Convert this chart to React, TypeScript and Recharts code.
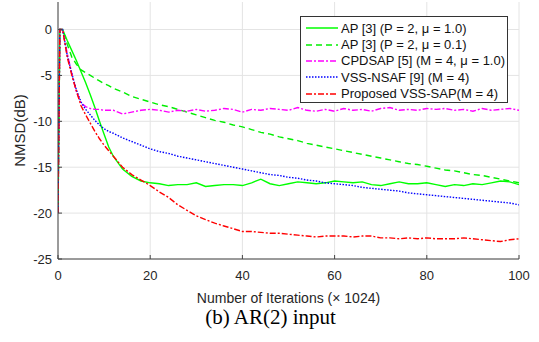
import React from 'react';
import { LineChart, Line, XAxis, YAxis, CartesianGrid, Label } from 'recharts';

const iterations = [
  0, 0.4, 1, 2, 3, 4, 5, 6, 7, 8, 9, 10, 11, 12,
  14, 16, 18, 20, 22, 24, 26, 28, 30, 32, 34, 36, 38, 40, 42, 44, 46, 48, 50, 52,
  54, 56, 58, 60, 62, 64, 66, 68, 70, 72, 74, 76, 78, 80, 82, 84, 86, 88, 90, 92,
  94, 96, 98, 100,
];

const apMu1 = [
  -20, 0, 0, -1.2, -2.3, -3.4, -4.6, -5.8, -7.1, -8.5, -10.0, -11.4, -12.8, -13.8,
  -15.2, -16.0, -16.5, -16.7, -16.8, -17.0, -16.9, -16.9, -16.7, -17.1,
  -17.0, -16.9, -16.9, -17.0, -16.7, -16.3, -16.8, -17.0, -16.8, -16.6,
  -16.7, -16.8, -16.7, -16.5, -16.6, -16.7, -16.6, -16.9, -17.0, -16.8,
  -16.6, -16.8, -16.8, -16.7, -16.9, -17.1, -16.9, -17.0, -16.8, -16.9,
  -16.7, -16.5, -16.6, -16.9,
];

const apMu01 = [
  -20, 0, 0, -1.6, -3.0, -3.8, -4.4, -4.7, -5.0, -5.3, -5.6, -5.9, -6.1, -6.4,
  -6.8, -7.3, -7.6, -7.9, -8.2, -8.4, -8.7, -9.0, -9.3, -9.6,
  -9.9, -10.1, -10.4, -10.6, -10.9, -11.2, -11.4, -11.7, -11.9, -12.1,
  -12.4, -12.6, -12.8, -13.0, -13.2, -13.4, -13.6, -13.8, -14.0, -14.2,
  -14.4, -14.6, -14.7, -14.9, -15.1, -15.3, -15.4, -15.6, -15.8, -15.9,
  -16.1, -16.3, -16.5, -16.7,
];

const cpdsap = [
  -20, 0, 0, -2.6, -4.8, -6.8, -8.0, -8.4, -8.6, -8.7, -8.7, -8.8, -8.8, -8.8,
  -9.2, -9.0, -8.8, -8.7, -8.8, -9.0, -8.8, -8.9, -8.7, -8.9,
  -8.8, -8.6, -8.7, -9.0, -8.7, -8.8, -8.6, -8.7, -8.8, -8.5,
  -8.8, -8.9, -8.7, -8.9, -8.6, -8.8, -8.7, -8.9, -8.6, -8.5,
  -8.8, -8.7, -8.8, -8.6, -8.7, -8.6, -8.8, -8.7, -8.9, -8.6,
  -8.8, -8.7, -8.6, -8.8,
];

const vssNsaf = [
  -20, 0, 0, -2.8, -4.8, -6.6, -7.9, -8.7, -9.3, -9.9, -10.4, -10.8, -11.1, -11.3,
  -11.8, -12.2, -12.6, -13.0, -13.3, -13.5, -13.8, -14.0, -14.2, -14.4,
  -14.6, -14.8, -15.0, -15.2, -15.4, -15.6, -15.8, -15.9, -16.1, -16.2,
  -16.4, -16.5, -16.7, -16.8, -16.9, -17.0, -17.2, -17.3, -17.4, -17.5,
  -17.6, -17.8, -17.9, -18.0, -18.1, -18.2, -18.3, -18.4, -18.5, -18.6,
  -18.7, -18.8, -18.9, -19.1,
];

const proposed = [
  -20, 0, 0, -3.0, -5.0, -6.7, -8.3, -9.3, -10.2, -11.1, -11.9, -12.6, -13.2, -13.8,
  -15.0, -15.8, -16.4, -17.0, -17.7, -18.3, -19.1, -19.7, -20.3, -20.7,
  -21.1, -21.4, -21.7, -22.0, -22.0, -22.1, -22.2, -22.2, -22.3, -22.4,
  -22.5, -22.6, -22.5, -22.5, -22.5, -22.6, -22.5, -22.5, -22.7, -22.7,
  -22.8, -22.7, -22.8, -22.7, -22.8, -22.8, -22.8, -22.7, -22.8, -22.9,
  -23.0, -23.1, -22.9, -22.8,
];

const xTicks = [0, 20, 40, 60, 80, 100];
const yTicks = [-25, -20, -15, -10, -5, 0];

const series = [
  { key: 'apMu1', name: 'AP [3] (P = 2, \u03bc = 1.0)', color: '#00ff00', dash: undefined, values: apMu1 },
  { key: 'apMu01', name: 'AP [3] (P = 2, \u03bc = 0.1)', color: '#00ee00', dash: '6 4', values: apMu01 },
  { key: 'cpdsap', name: 'CPDSAP [5] (M = 4, \u03bc = 1.0)', color: '#ff00ff', dash: '6 2 2 2', values: cpdsap },
  { key: 'vssNsaf', name: 'VSS-NSAF [9] (M = 4)', color: '#0000ff', dash: '1.5 1.5', values: vssNsaf },
  { key: 'proposed', name: 'Proposed VSS-SAP(M = 4)', color: '#ff0000', dash: '6 2 2 2', values: proposed },
];

const data = iterations.map((x, i) => {
  const row: { [k: string]: number } = { x };
  series.forEach(s => { row[s.key] = s.values[i]; });
  return row;
});

const FONT = '"Liberation Sans", Arial, Helvetica, sans-serif';
const AXIS = '#444444';

const LegendBox = () => (
  <div style={{
    position: 'absolute', left: 300, top: 16, width: 208, height: 87,
    border: '1px solid #333', background: '#fff', boxSizing: 'border-box',
    padding: '3px 0 0 4px', fontFamily: FONT, fontSize: 13, color: '#111',
  }}>
    {series.map(s => (
      <div key={s.key} style={{ display: 'flex', alignItems: 'center', height: 16.4, whiteSpace: 'nowrap' }}>
        <svg width={34} height={8} style={{ marginRight: 2 }}>
          <line x1={1} y1={4} x2={33} y2={4} stroke={s.color} strokeWidth={1.5} strokeDasharray={s.dash} />
        </svg>
        <span>{s.name}</span>
      </div>
    ))}
  </div>
);

export default function App() {
  return (
    <div style={{ position: 'absolute', left: 0, top: 0, width: 539, height: 342, background: '#fff' }}>
      <LineChart width={539} height={342} data={data} margin={{ top: 2, right: 20, left: 0, bottom: 38 }}>
        <CartesianGrid stroke="#e4e4e4" verticalValues={xTicks} horizontalValues={yTicks} />
        <XAxis
          dataKey="x" type="number" domain={[0, 100]} ticks={xTicks} allowDataOverflow
          stroke={AXIS} tickSize={4} tickMargin={8} height={45}
          tickLine={{ stroke: AXIS, transform: 'translate(0,-4)' }}
          tick={{ fill: '#262626', fontSize: 13, fontFamily: FONT }}
        >
          <Label value={'Number of Iterations (\u00d7 1024)'} position="insideBottom" offset={1}
            style={{ fill: '#262626', fontSize: 14, fontFamily: FONT }} />
        </XAxis>
        <XAxis xAxisId="top" orientation="top" dataKey="x" type="number" domain={[0, 100]} ticks={xTicks}
          height={0} mirror tick={false} tickSize={4} stroke={AXIS} />
        <YAxis
          type="number" domain={[-25, 3]} ticks={yTicks} allowDataOverflow width={58}
          stroke={AXIS} tickSize={4} tickMargin={2}
          tickLine={{ stroke: AXIS, transform: 'translate(4,0)' }}
          tick={{ fill: '#262626', fontSize: 13, fontFamily: FONT }}
        >
          <Label value="NMSD(dB)" angle={-90} position="insideLeft" offset={20}
            style={{ textAnchor: 'middle', fill: '#262626', fontSize: 15, fontFamily: FONT }} />
        </YAxis>
        <YAxis yAxisId="right" orientation="right" type="number" domain={[-25, 3]} ticks={yTicks}
          width={0} mirror tick={false} tickSize={4} stroke={AXIS} />
        {series.map(s => (
          <Line key={s.key} dataKey={s.key} name={s.name} type="linear" stroke={s.color} strokeWidth={1.4}
            strokeDasharray={s.dash} dot={false} isAnimationActive={false} />
        ))}
      </LineChart>
      <LegendBox />
      <div style={{
        position: 'absolute', left: 0, width: 541, top: 305, textAlign: 'center',
        fontFamily: '"Liberation Serif", "Times New Roman", serif', fontSize: 21, color: '#000',
      }}>
        (b) AR(2) input
      </div>
    </div>
  );
}
